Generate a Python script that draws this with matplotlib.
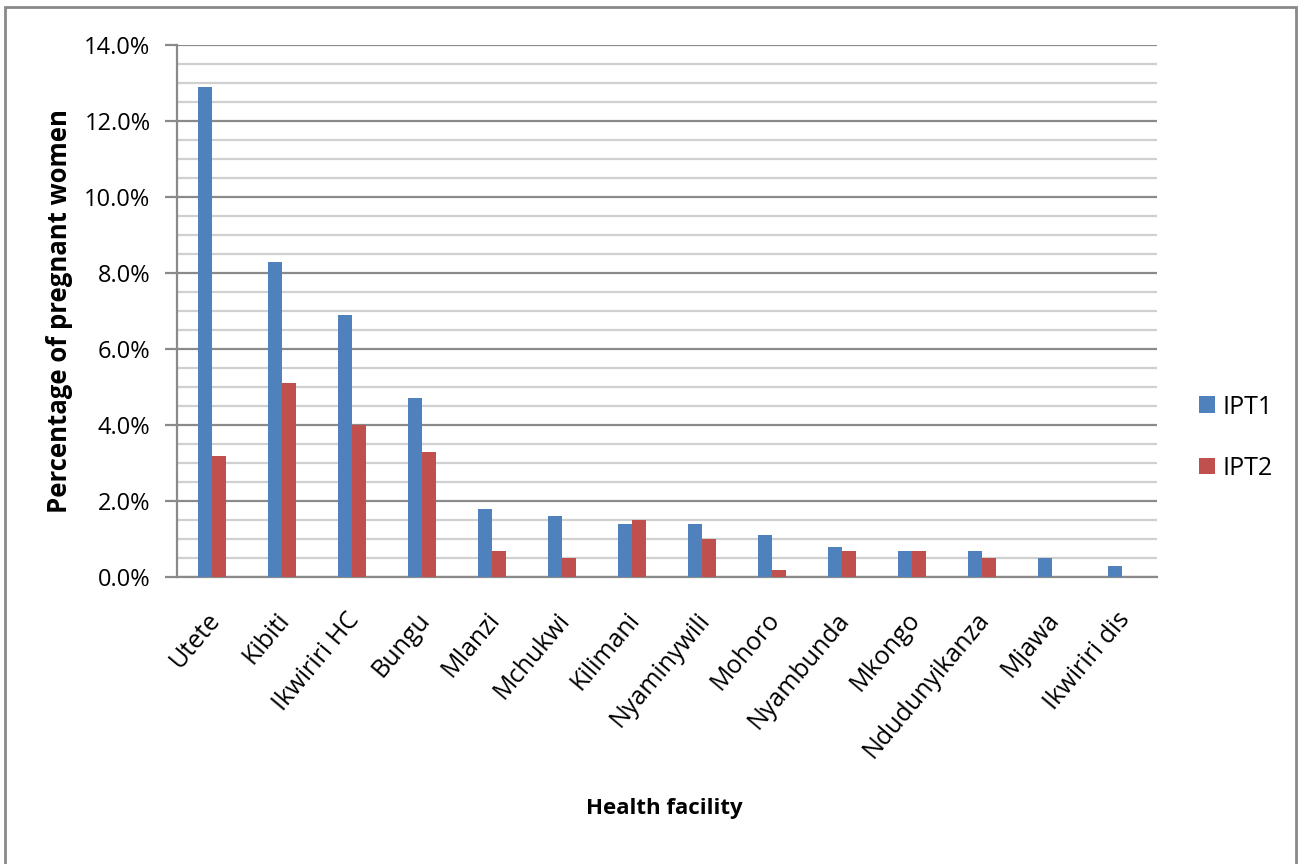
import numpy as np
import matplotlib.pyplot as plt
import matplotlib.transforms as mtransforms
from matplotlib.patches import Rectangle
from matplotlib.ticker import MultipleLocator, FuncFormatter

# IPT uptake by health facility (% of pregnant women)
facilities = ["Utete", "Kibiti", "Ikwiriri HC", "Bungu", "Mlanzi", "Mchukwi",
              "Kilimani", "Nyaminywili", "Mohoro", "Nyambunda", "Mkongo",
              "Ndudunyikanza", "Mjawa", "Ikwiriri dis"]
ipt1 = [12.9, 8.3, 6.9, 4.7, 1.8, 1.6, 1.4, 1.4, 1.1, 0.8, 0.7, 0.7, 0.5, 0.3]
ipt2 = [3.2, 5.1, 4.0, 3.3, 0.7, 0.5, 1.5, 1.0, 0.2, 0.7, 0.7, 0.5, 0.0, 0.0]

BLUE = "#4F81BD"
RED = "#C0504D"
GRID_DARK = "#8a8a8a"
GRID_LIGHT = "#d0d0d0"

plt.rcParams['font.family'] = ['Open Sans', 'DejaVu Sans']

fig = plt.figure(figsize=(13.01, 8.64), dpi=100)
ax = fig.add_axes([0.136, 0.332, 0.753, 0.616])

x = np.arange(len(facilities))
w = 0.2
ax.bar(x - w / 2, ipt1, w, color=BLUE, label="IPT1", zorder=3)
ax.bar(x + w / 2, ipt2, w, color=RED, label="IPT2", zorder=3)

ax.set_xlim(-0.5, len(facilities) - 0.5)
ax.set_ylim(0, 14)
ax.yaxis.set_major_locator(MultipleLocator(2))
ax.yaxis.set_minor_locator(MultipleLocator(0.5))
ax.yaxis.set_major_formatter(FuncFormatter(lambda v, p: f"{v:.1f}%"))

ax.grid(axis='y', which='major', color=GRID_DARK, lw=1.6, zorder=0)
ax.grid(axis='y', which='minor', color=GRID_LIGHT, lw=1.6, zorder=0)

for side in ['top', 'right']:
    ax.spines[side].set_visible(False)
for side in ['left', 'bottom']:
    ax.spines[side].set_color(GRID_DARK)
    ax.spines[side].set_linewidth(1.6)

ax.tick_params(axis='y', which='major', length=9, width=1.6, color=GRID_DARK,
               labelsize=17, pad=10)
ax.tick_params(axis='y', which='minor', length=0)
ax.tick_params(axis='x', length=0, pad=22)

ax.set_xticks(x)
ax.set_xticklabels(facilities, rotation=50, ha='right', rotation_mode='anchor',
                   fontsize=18)
# nudge the slanted labels a little to the left
offset = mtransforms.ScaledTranslation(-6 / 100, 0, fig.dpi_scale_trans)
for lab in ax.get_xticklabels():
    lab.set_transform(lab.get_transform() + offset)

ax.set_ylabel("Percentage of pregnant women", fontsize=18.5, fontweight='bold',
              labelpad=8)
fig.text(0.511, 0.064, "Health facility", ha='center', va='center',
         fontsize=16, fontweight='bold')

ax.legend(loc='center left', bbox_to_anchor=(1.02, 0.262), frameon=False,
          fontsize=18, handlelength=0.65, handleheight=0.65,
          labelspacing=1.45, handletextpad=0.3)

# chart border
fig.patches.append(Rectangle((5 / 1301, -0.02), 1291 / 1301, 1.02 - 7 / 864,
                             transform=fig.transFigure, fill=False,
                             edgecolor=GRID_DARK, lw=2))

fig.savefig("out.png", dpi=100)
